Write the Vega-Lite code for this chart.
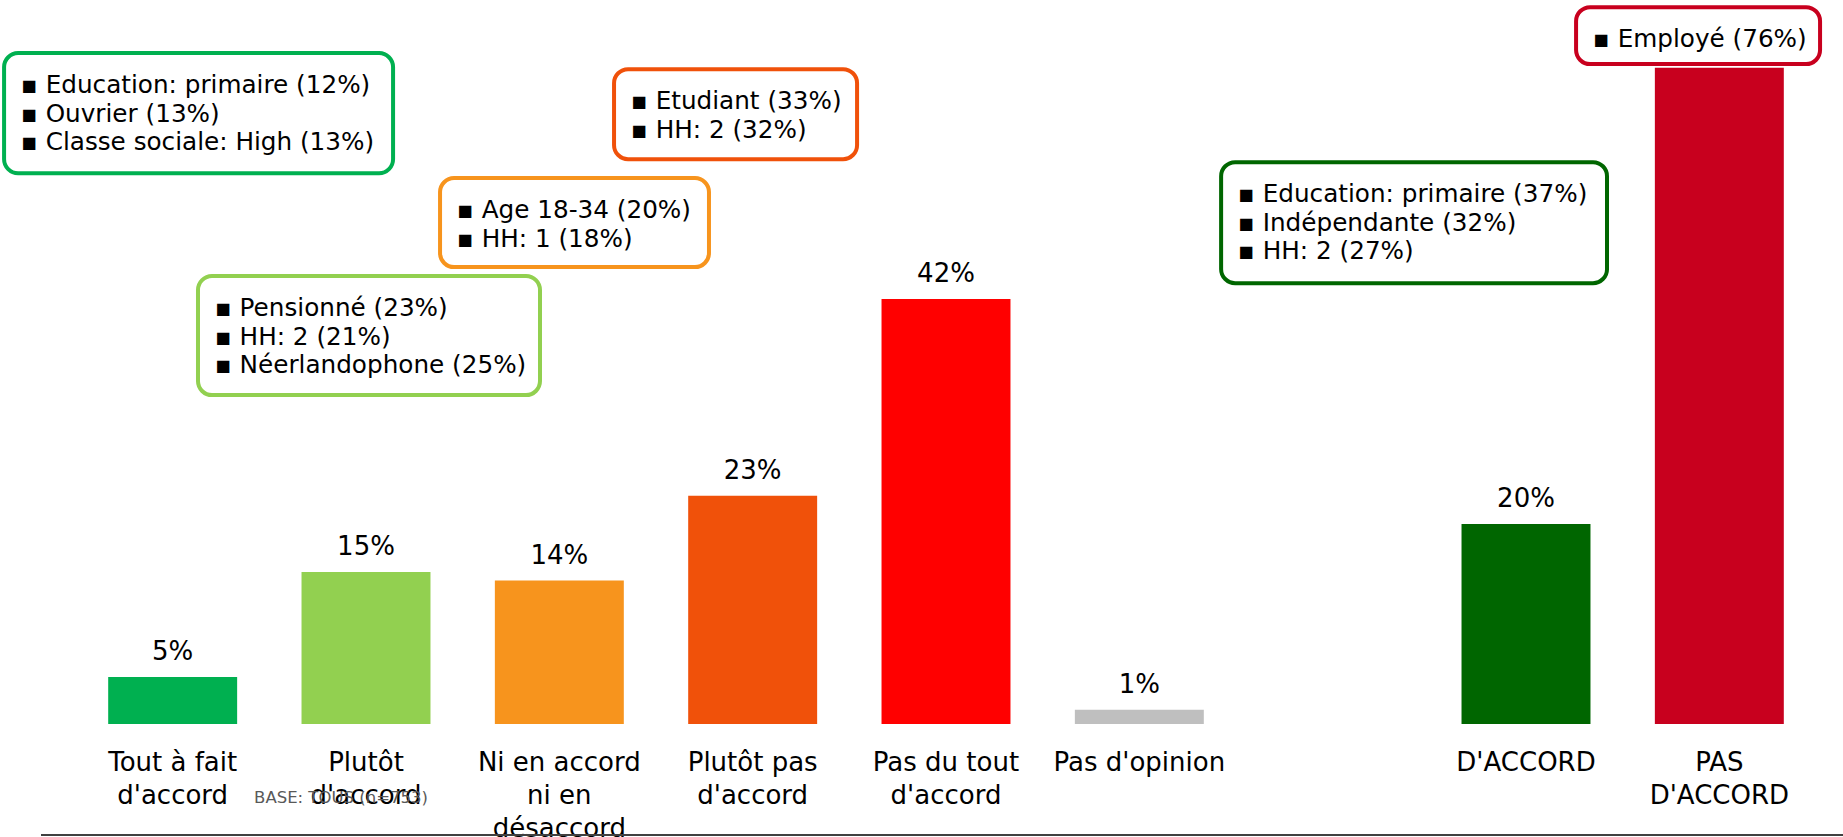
{
  "$schema": "https://vega.github.io/schema/vega-lite/v6.json",
  "width": 1740,
  "height": 724,
  "autosize": {"type": "none"},
  "padding": {"left": 76, "top": 0, "right": 27, "bottom": 113},
  "background": "white",
  "config": {"font": "DejaVu Sans", "view": {"stroke": null}},
  "datasets": {
    "bars": [
      {"cat": "Tout à fait\nd'accord", "pct": 0.0465},
      {"cat": "Plutôt\nd'accord", "pct": 0.1505},
      {"cat": "Ni en accord\nni en\ndésaccord", "pct": 0.142},
      {"cat": "Plutôt pas\nd'accord", "pct": 0.226},
      {"cat": "Pas du tout\nd'accord", "pct": 0.421},
      {"cat": "Pas d'opinion", "pct": 0.014},
      {"cat": "D'ACCORD", "pct": 0.198},
      {"cat": "PAS\nD'ACCORD", "pct": 0.65}
    ],
    "callouts": [
      {"anchor": "Tout à fait\nd'accord", "lines": "▪ Education: primaire (12%)\n▪ Ouvrier (13%)\n▪ Classe sociale: High (13%)", "x": -0.372, "x2": 1.64, "top": 0.6644, "bottom": 0.5455},
      {"anchor": "Plutôt\nd'accord", "lines": "▪ Pensionné (23%)\n▪ HH: 2 (21%)\n▪ Néerlandophone (25%)", "x": 0.631, "x2": 2.4, "top": 0.4436, "bottom": 0.3257},
      {"anchor": "Ni en accord\nni en\ndésaccord", "lines": "▪ Age 18-34 (20%)\n▪ HH: 1 (18%)", "x": 1.883, "x2": 3.274, "top": 0.5406, "bottom": 0.4525},
      {"anchor": "Plutôt pas\nd'accord", "lines": "▪ Etudiant (33%)\n▪ HH: 2 (32%)", "x": 2.783, "x2": 4.04, "top": 0.6485, "bottom": 0.5594},
      {"anchor": "D'ACCORD", "lines": "▪ Education: primaire (37%)\n▪ Indépendante (32%)\n▪ HH: 2 (27%)", "x": 5.923, "x2": 7.919, "top": 0.5564, "bottom": 0.4366},
      {"anchor": "PAS\nD'ACCORD", "lines": "▪ Employé (76%)", "x": 7.759, "x2": 9.021, "top": 0.7099, "bottom": 0.6535}
    ],
    "notes": [{"note": "BASE: TOUS (n=753)"}]
  },
  "resolve": {"scale": {"x": "independent"}, "axis": {"x": "independent"}},
  "layer": [
    {
      "data": {"name": "bars"},
      "encoding": {
        "x": {
          "field": "cat", "type": "nominal", "sort": null,
          "scale": {
            "domain": ["Tout à fait\nd'accord", "Plutôt\nd'accord", "Ni en accord\nni en\ndésaccord", "Plutôt pas\nd'accord", "Pas du tout\nd'accord", "Pas d'opinion", " ", "D'ACCORD", "PAS\nD'ACCORD"],
            "paddingInner": 0.333, "paddingOuter": 0.1665
          },
          "axis": {
            "title": null, "domain": false, "ticks": false, "tickSize": 0, "grid": false,
            "labelPadding": 46, "labelBaseline": "alphabetic", "labelFontSize": 26,
            "labelColor": "#000000", "labelLineHeight": 33, "labelLimit": 0,
            "labelOverlap": false, "labelAngle": 0,
            "labelExpr": "split(datum.label, '\\n')"
          }
        },
        "y": {"field": "pct", "type": "quantitative", "scale": {"domain": [0, 0.717], "nice": false}, "axis": null}
      },
      "layer": [
        {
          "mark": {"type": "bar"},
          "encoding": {
            "color": {
              "field": "cat", "type": "nominal", "legend": null,
              "scale": {
                "domain": ["Tout à fait\nd'accord", "Plutôt\nd'accord", "Ni en accord\nni en\ndésaccord", "Plutôt pas\nd'accord", "Pas du tout\nd'accord", "Pas d'opinion", "D'ACCORD", "PAS\nD'ACCORD"],
                "range": ["#00B050", "#92D050", "#F7941D", "#F0510A", "#FF0000", "#BFBFBF", "#006600", "#C8001E"]
              }
            }
          }
        },
        {
          "transform": [{"filter": "datum.pct < 0.6"}],
          "mark": {"type": "text", "dy": -17, "baseline": "alphabetic", "align": "center", "fontSize": 26, "color": "#000000"},
          "encoding": {"text": {"field": "pct", "type": "quantitative", "format": ".0%"}}
        }
      ]
    },
    {
      "layer": [
        {
          "data": {"name": "callouts"},
          "mark": {"type": "rect", "fill": "white", "strokeWidth": 4, "cornerRadius": 14},
          "encoding": {
            "x": {"field": "x", "type": "quantitative", "scale": {"domain": [0, 9], "nice": false, "zero": false}, "axis": null},
            "x2": {"field": "x2"},
            "y": {"field": "top", "type": "quantitative", "scale": {"domain": [0, 0.717], "nice": false}, "axis": null},
            "y2": {"field": "bottom"},
            "stroke": {
              "field": "anchor", "type": "nominal", "legend": null,
              "scale": {
                "domain": ["Tout à fait\nd'accord", "Plutôt\nd'accord", "Ni en accord\nni en\ndésaccord", "Plutôt pas\nd'accord", "D'ACCORD", "PAS\nD'ACCORD"],
                "range": ["#00B050", "#92D050", "#F7941D", "#F0510A", "#006600", "#C8001E"]
              }
            }
          }
        },
        {
          "data": {"name": "callouts"},
          "mark": {"type": "text", "align": "left", "baseline": "alphabetic", "dx": 17, "dy": 40, "fontSize": 24.7, "lineBreak": "\n", "lineHeight": 28.5, "color": "#000000"},
          "encoding": {
            "x": {"field": "x", "type": "quantitative"},
            "y": {"field": "top", "type": "quantitative"},
            "text": {"field": "lines", "type": "nominal"}
          }
        },
        {
          "data": {"name": "notes"},
          "mark": {"type": "rule", "color": "#404040", "strokeWidth": 2},
          "encoding": {
            "x": {"datum": -0.181, "type": "quantitative"},
            "x2": {"datum": 9.14},
            "y": {"datum": -0.11, "type": "quantitative"}
          }
        },
        {
          "data": {"name": "notes"},
          "mark": {"type": "text", "align": "left", "baseline": "alphabetic", "fontSize": 16.5, "color": "#595959"},
          "encoding": {
            "x": {"datum": 0.921, "type": "quantitative"},
            "y": {"datum": -0.0782, "type": "quantitative"},
            "text": {"field": "note", "type": "nominal"}
          }
        }
      ]
    }
  ]
}
